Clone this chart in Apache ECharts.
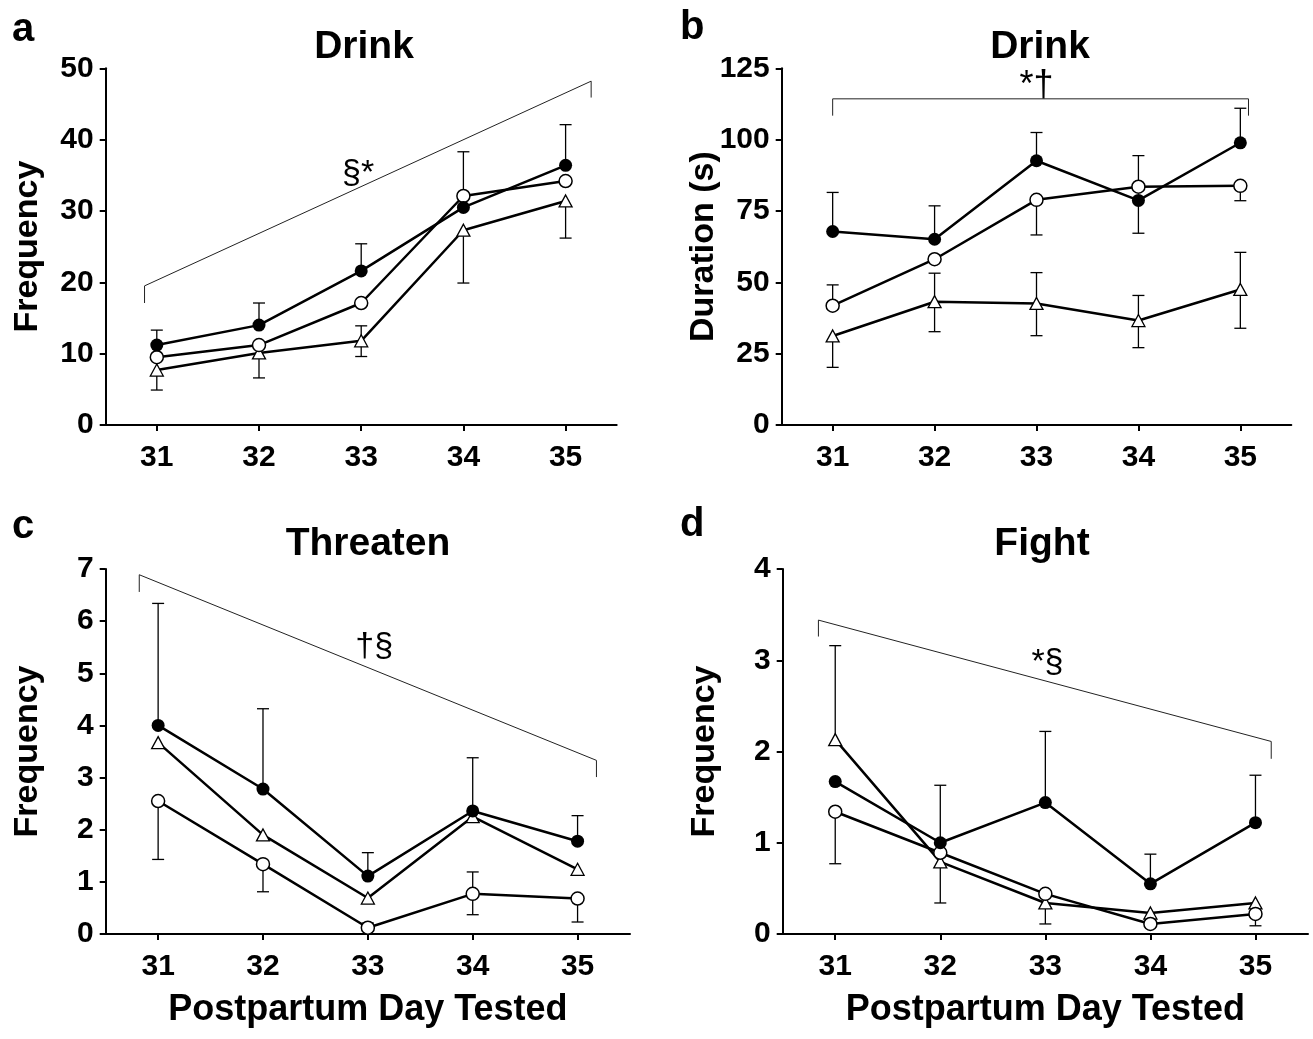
<!DOCTYPE html>
<html>
<head>
<meta charset="utf-8">
<script src="https://cdn.jsdelivr.net/npm/echarts@6/dist/echarts.min.js"></script>
<style>
html, body { margin: 0; background: #fff; }
#main { width: 1313px; height: 1039px; }
</style>
</head>
<body>
<div id="main"></div>
<script>
var days = [31, 32, 33, 34, 35];

// a: Drink, frequency
var aFilled = [11.2, 14.0, 21.6, 30.5, 36.4];
var aOpen = [9.5, 11.2, 17.1, 32.1, 34.2];
var aTri = [7.7, 10.1, 11.8, 27.3, 31.4];
// error bars: [day, mean, end]
var aErr = [[31, 11.2, 13.3], [31, 7.7, 4.9], [32, 14.0, 17.1], [32, 10.1, 6.6],
    [33, 21.6, 25.4], [33, 11.8, 13.9], [33, 11.8, 9.6], [34, 32.1, 38.3],
    [34, 27.3, 19.9], [35, 36.4, 42.1], [35, 31.4, 26.2]];
var aBracket = [[30.88, 17.1], [30.88, 19.5], [35.25, 48.2], [35.25, 45.9]];
var aNote = [[32.97, 35.3, '§*']];

// b: Drink, duration
var bFilled = [67.8, 65.1, 92.6, 78.7, 98.9];
var bOpen = [41.8, 58.1, 78.9, 83.5, 83.8];
var bTri = [31.2, 43.2, 42.6, 36.6, 47.5];
var bErr = [[31, 67.8, 81.5], [31, 41.8, 49.1], [31, 31.2, 20.2], [32, 65.1, 76.8],
    [32, 43.2, 53.2], [32, 43.2, 32.7], [33, 92.6, 102.5], [33, 78.9, 66.6],
    [33, 42.6, 53.4], [33, 42.6, 31.3], [34, 83.5, 94.4], [34, 78.7, 67.2],
    [34, 36.6, 45.4], [34, 36.6, 27.1], [35, 98.9, 111.0], [35, 83.8, 78.6],
    [35, 47.5, 60.5], [35, 47.5, 33.9]];
var bBracket = [[31.0, 108.4], [31.0, 114.3], [35.08, 114.3], [35.08, 108.4]];
var bNote = [[33.0, 118.8, '*†']];

// c: Threaten
var cFilled = [4.0, 2.78, 1.11, 2.36, 1.78];
var cOpen = [2.55, 1.34, 0.12, 0.77, 0.68];
var cTri = [3.67, 1.90, 0.69, 2.25, 1.24];
var cErr = [[31, 4.0, 6.34], [31, 2.55, 1.43], [32, 2.78, 4.32], [32, 1.34, 0.81],
    [33, 1.11, 1.56], [33, 0.12, 0.21], [34, 2.36, 3.38], [34, 0.77, 1.19],
    [34, 0.77, 0.37], [35, 1.78, 2.27], [35, 0.68, 0.23]];
var cBracket = [[30.82, 6.56], [30.82, 6.89], [35.18, 3.33], [35.18, 3.01]];
var cNote = [[33.06, 5.52, '†§']];

// d: Fight
var dFilled = [1.67, 1.00, 1.44, 0.55, 1.22];
var dOpen = [1.34, 0.89, 0.44, 0.11, 0.22];
var dTri = [2.13, 0.79, 0.34, 0.23, 0.34];
var dErr = [[31, 2.13, 3.16], [31, 1.34, 0.77], [32, 1.0, 1.63], [32, 0.79, 0.34],
    [33, 1.44, 2.22], [33, 0.34, 0.11], [34, 0.55, 0.875], [35, 1.22, 1.74],
    [35, 0.22, 0.09]];
var dBracket = [[30.84, 3.26], [30.84, 3.44], [35.15, 2.11], [35.15, 1.92]];
var dNote = [[33.02, 2.97, '*§']];

var FONT = '"Liberation Sans", Arial, sans-serif';

var panels = [
    {grid: {left: 105.7, top: 68.3, width: 511, height: 356.7}, ymax: 50, step: 10, yname: 'Frequency', xname: '',
     title: 'Drink', tx: 364, ty: 47, letter: 'a', lx: 12, ly: 30, noteSize: 34,
     filled: aFilled, open: aOpen, tri: aTri, err: aErr, bracket: aBracket, note: aNote},
    {grid: {left: 781.7, top: 68.3, width: 509.6, height: 356.7}, ymax: 125, step: 25, yname: 'Duration (s)', xname: '',
     title: 'Drink', tx: 1040, ty: 47, letter: 'b', lx: 680, ly: 28, noteSize: 36,
     filled: bFilled, open: bOpen, tri: bTri, err: bErr, bracket: bBracket, note: bNote},
    {grid: {left: 105.7, top: 569, width: 524.3, height: 365}, ymax: 7, step: 1, yname: 'Frequency', xname: 'Postpartum Day Tested',
     title: 'Threaten', tx: 368, ty: 544, letter: 'c', lx: 12, ly: 527, noteSize: 34,
     filled: cFilled, open: cOpen, tri: cTri, err: cErr, bracket: cBracket, note: cNote},
    {grid: {left: 782.7, top: 569, width: 525.3, height: 365}, ymax: 4, step: 1, yname: 'Frequency', xname: 'Postpartum Day Tested',
     title: 'Fight', tx: 1042, ty: 544, letter: 'd', lx: 680, ly: 525, noteSize: 34,
     filled: dFilled, open: dOpen, tri: dTri, err: dErr, bracket: dBracket, note: dNote}
];

function pairs(vals) {
    return days.map(function (d, i) { return [d, vals[i]]; });
}

function errItem(params, api) {
    var p0 = api.coord([api.value(0), api.value(1)]);
    var p1 = api.coord([api.value(0), api.value(2)]);
    var w = 6;
    return {
        type: 'group',
        children: [
            {type: 'line', shape: {x1: p0[0], y1: p0[1], x2: p1[0], y2: p1[1]}, style: {stroke: '#000', lineWidth: 1.3}},
            {type: 'line', shape: {x1: p1[0] - w, y1: p1[1], x2: p1[0] + w, y2: p1[1]}, style: {stroke: '#000', lineWidth: 1.3}}
        ]
    };
}

function noteItem(notes, size) {
    return function (params, api) {
        var p = api.coord([api.value(0), api.value(1)]);
        return {
            type: 'text', x: p[0], y: p[1],
            style: {text: notes[params.dataIndex][2], fill: '#000', font: size + 'px ' + FONT, align: 'center', verticalAlign: 'middle'}
        };
    };
}

var grids = [], xAxes = [], yAxes = [], series = [], graphics = [];

panels.forEach(function (p, i) {
    grids.push(p.grid);
    xAxes.push({
        gridIndex: i, type: 'value', min: 30.5, max: 35.5,
        name: p.xname, nameLocation: 'middle', nameGap: 58, nameMoveOverlap: false,
        nameTextStyle: {fontFamily: FONT, fontWeight: 'bold', fontSize: 36, color: '#000'},
        axisLine: {onZero: false, lineStyle: {color: '#000', width: 2}},
        axisTick: {customValues: days, length: 6, lineStyle: {color: '#000', width: 2}},
        axisLabel: {customValues: days, fontFamily: FONT, fontWeight: 'bold', fontSize: 30, color: '#000', margin: 18},
        splitLine: {show: false}
    });
    yAxes.push({
        gridIndex: i, type: 'value', min: 0, max: p.ymax, interval: p.step,
        name: p.yname, nameLocation: 'middle', nameRotate: 90, nameGap: 61, nameMoveOverlap: false,
        nameTextStyle: {fontFamily: FONT, fontWeight: 'bold', fontSize: 34, color: '#000'},
        axisLine: {show: true, lineStyle: {color: '#000', width: 2}},
        axisTick: {show: true, length: 6, lineStyle: {color: '#000', width: 2}},
        axisLabel: {fontFamily: FONT, fontWeight: 'bold', fontSize: 30, color: '#000', margin: 12},
        splitLine: {show: false}
    });

    series.push({
        type: 'custom', xAxisIndex: i, yAxisIndex: i, z: 1,
        renderItem: errItem, data: p.err, silent: true
    });
    series.push({
        type: 'line', xAxisIndex: i, yAxisIndex: i, z: 1,
        data: p.bracket, showSymbol: false, symbol: 'none',
        lineStyle: {color: '#222', width: 1}
    });
    series.push({
        type: 'custom', xAxisIndex: i, yAxisIndex: i, z: 3,
        renderItem: noteItem(p.note, p.noteSize), data: p.note.map(function (n) { return [n[0], n[1]]; })
    });
    series.push({
        type: 'line', xAxisIndex: i, yAxisIndex: i, data: pairs(p.tri),
        symbol: 'triangle', symbolSize: [13, 12],
        lineStyle: {color: '#000', width: 2.5},
        itemStyle: {color: '#fff', borderColor: '#000', borderWidth: 1.3}
    });
    series.push({
        type: 'line', xAxisIndex: i, yAxisIndex: i, data: pairs(p.open),
        symbol: 'circle', symbolSize: 13,
        lineStyle: {color: '#000', width: 2.5},
        itemStyle: {color: '#fff', borderColor: '#000', borderWidth: 1.5}
    });
    series.push({
        type: 'line', xAxisIndex: i, yAxisIndex: i, data: pairs(p.filled),
        symbol: 'circle', symbolSize: 13,
        lineStyle: {color: '#000', width: 2.5},
        itemStyle: {color: '#000', borderColor: '#000', borderWidth: 0}
    });

    graphics.push({
        type: 'text', x: p.tx, y: p.ty,
        style: {text: p.title, fill: '#000', font: 'bold 39px ' + FONT, align: 'center', verticalAlign: 'middle'}
    });
    graphics.push({
        type: 'text', x: p.lx, y: p.ly,
        style: {text: p.letter, fill: '#000', font: 'bold 40px ' + FONT, align: 'left', verticalAlign: 'middle'}
    });
});

var chart = echarts.init(document.getElementById('main'));
chart.setOption({
    animation: false,
    backgroundColor: '#fff',
    grid: grids,
    xAxis: xAxes,
    yAxis: yAxes,
    series: series,
    graphic: graphics
});
</script>
</body>
</html>
